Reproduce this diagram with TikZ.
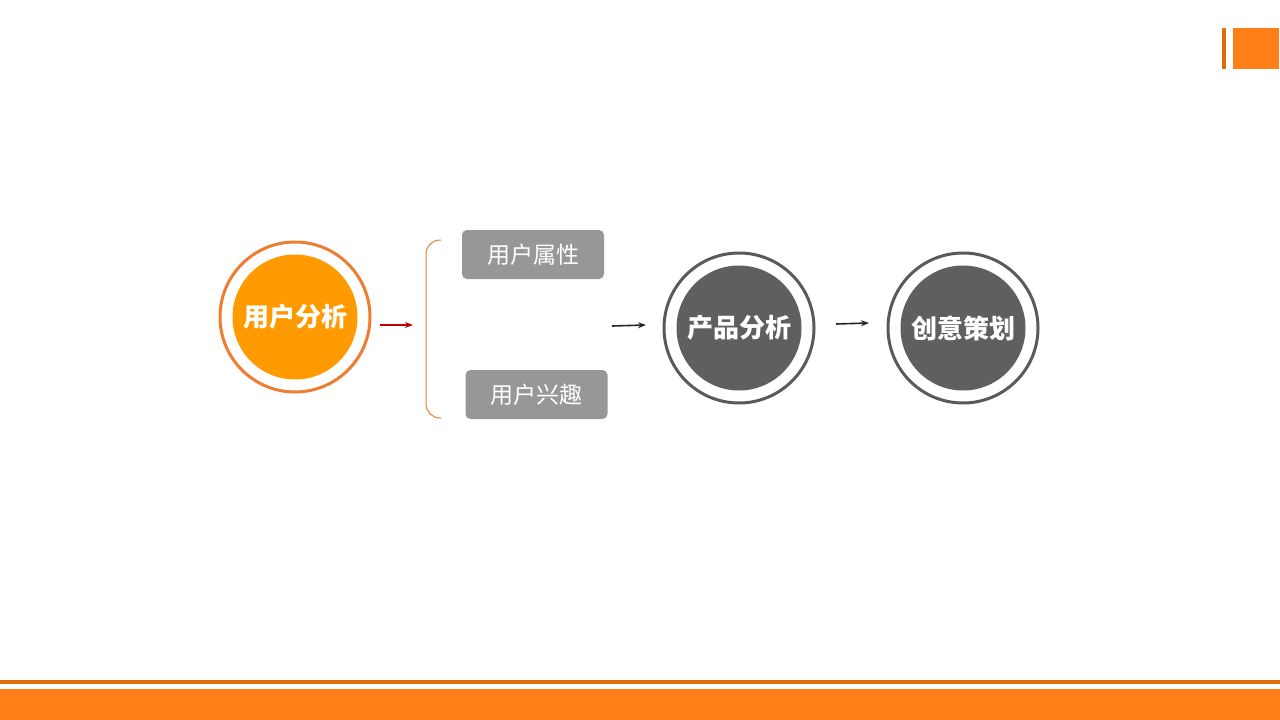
\documentclass[tikz,border=0pt]{standalone}
\usepackage{fontspec}
\newfontfamily\cjk{Noto Sans CJK SC}
\usetikzlibrary{arrows.meta}
\definecolor{orgline}{HTML}{ED7D31}
\definecolor{orgfill}{HTML}{FF9A00}
\definecolor{barorg}{HTML}{FF7F16}
\definecolor{darkorg}{HTML}{E36C0A}
\definecolor{grayline}{HTML}{5A5A5A}
\definecolor{grayfill}{HTML}{5F5F5F}
\definecolor{boxgray}{HTML}{979797}
\definecolor{darkred}{HTML}{C00000}
\tikzset{
  outerring/.style={circle, draw=#1, line width=3pt, minimum size=150pt, inner sep=0pt},
  innerdisc/.style={circle, fill=#1, minimum size=125pt, inner sep=0pt, text=white, font=\cjk\bfseries\fontsize{26}{30}\selectfont},
  tagbox/.style={rectangle, rounded corners=5pt, fill=boxgray, text=white, minimum width=142pt, minimum height=49pt, inner sep=0pt, font=\cjk\fontsize{23}{27}\selectfont},
  flow/.style={-{Stealth[length=8pt,width=6pt]}, line width=1.6pt},
}
\begin{document}
\begin{tikzpicture}[x=1pt,y=-1pt]
\useasboundingbox[fill=white] (0,0) rectangle (1280,720);
% decorations
\fill[darkorg] (1222,28) rectangle (1226,69);
\fill[barorg] (1233,28) rectangle (1279,69);
\fill[darkorg] (0,680) rectangle (1280,684);
\fill[barorg] (0,689) rectangle (1280,720);
% circles
\node[outerring=orgline] (c1o) at (295,317) {};
\node[innerdisc=orgfill] (c1) at (295,317) {用户分析};
\node[outerring=grayline] (c2o) at (739,328) {};
\node[innerdisc=grayfill] (c2) at (739,328) {产品分析};
\node[outerring=grayline] (c3o) at (963,328) {};
\node[innerdisc=grayfill] (c3) at (963,328) {创意策划};
% boxes
\node[tagbox] (b1) at (533,254.5) {用户属性};
\node[tagbox] (b2) at (536.5,394.5) {用户兴趣};
% bracket
\coordinate (brt) at (441,240);
\coordinate (brb) at (441,418);
\draw[orgline, line width=1pt, rounded corners=14pt] (brt) -- (426,240) -- (426,418) -- (brb);
% arrows
\coordinate (a1s) at (380,325);
\coordinate (a1e) at (413,325);
\draw[flow, darkred] (a1s) -- (a1e);
\coordinate (a2s) at (612,326);
\coordinate (a2e) at (646,325);
\draw[flow, black!85] (a2s) -- (a2e);
\coordinate (a3s) at (836,324);
\coordinate (a3e) at (869,323);
\draw[flow, black!85] (a3s) -- (a3e);
\end{tikzpicture}
\end{document}
